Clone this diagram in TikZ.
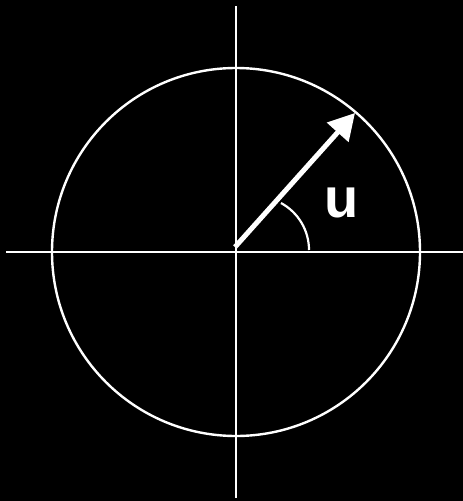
\documentclass[tikz,border=0pt]{standalone}
\usepackage{fontspec}
\setmainfont{Liberation Sans}
\usetikzlibrary{arrows.meta}
\begin{document}
\begin{tikzpicture}[x=1pt,y=-1pt,
  axis/.style={draw=white,line width=2pt},
  unitcircle/.style={draw=white,line width=2.4pt},
  vec/.style={draw=white,line width=5pt,-{Triangle[length=26pt,width=28pt]}},
  anglearc/.style={draw=white,line width=2.2pt},
  lbl/.style={text=white,font=\fontsize{56}{60}\selectfont\bfseries,inner sep=0pt}]
\fill[black] (0,0) rectangle (463,501);
\useasboundingbox (0,0) rectangle (463,501);
\coordinate (O) at (236,252);
\coordinate (L) at (6,252);
\coordinate (R) at (463,252);
\coordinate (T) at (236,6);
\coordinate (B) at (236,498);
\coordinate (S) at (235,247);
\coordinate (U) at (355,113);
\coordinate (A0) at (309,250);
\draw[axis] (L) -- (R);
\draw[axis] (T) -- (B);
\draw[unitcircle] (O) circle[radius=184];
\draw[anglearc] (A0) arc[start angle=0,end angle=-61.6,radius=53.4];
\draw[vec] (S) -- (U);
\node[lbl] (u) at (342,203) {u};
\end{tikzpicture}
\end{document}
